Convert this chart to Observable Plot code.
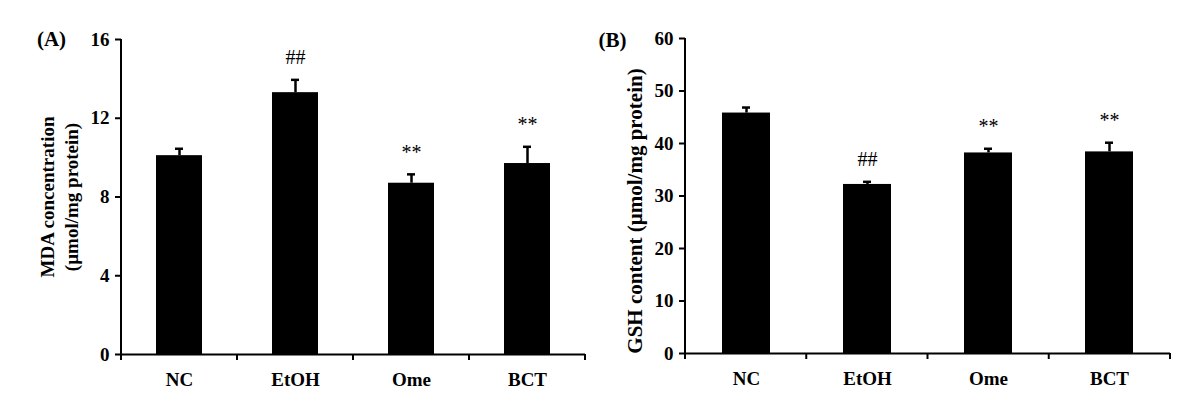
<!DOCTYPE html>
<html><head><meta charset="utf-8">
<script src="https://cdn.jsdelivr.net/npm/d3@7"></script>
<script src="https://cdn.jsdelivr.net/npm/@observablehq/plot@0.6"></script>
<style>
html,body{margin:0;padding:0;background:#fff;}
#wrap{display:flex;width:1200px;height:416px;}
</style></head><body><div id="wrap"></div>
<script>
const categories = ["NC", "EtOH", "Ome", "BCT"];
const mdaMean = [10.1, 13.3, 8.7, 9.7];
const mdaErr = [0.35, 0.65, 0.45, 0.85];
const mdaSig = ["", "##", "**", "**"];
const mdaTicks = [0, 4, 8, 12, 16];
const gshMean = [45.8, 32.2, 38.2, 38.4];
const gshErr = [1.05, 0.5, 0.8, 1.75];
const gshSig = ["", "##", "**", "**"];
const gshTicks = [0, 10, 20, 30, 40, 50, 60];

const FONT = "'Liberation Serif', 'Times New Roman', serif";

function axisLines(n) {
  return (index, scales, values, dim) => {
    const {width, height, marginLeft, marginRight, marginTop, marginBottom} = dim;
    const g = d3.create("svg:g").attr("stroke", "#000").attr("stroke-width", 2).attr("fill", "none");
    const left = marginLeft, right = width - marginRight, bottom = height - marginBottom;
    g.append("line").attr("x1", left).attr("x2", left).attr("y1", marginTop).attr("y2", bottom + 1);
    const step = (right - left) / n;
    for (let i = 0; i <= n; i++) {
      const x = left + i * step;
      g.append("line").attr("x1", x).attr("x2", x).attr("y1", bottom).attr("y2", bottom + 6);
    }
    return g.node();
  };
}

function panel(cfg) {
  const data = categories.map((c, i) => ({cat: c, mean: cfg.mean[i], err: cfg.err[i], sig: cfg.sig[i]}));
  return Plot.plot({
    width: 600,
    height: 416,
    marginLeft: cfg.ml, marginRight: cfg.mr, marginTop: cfg.mt, marginBottom: cfg.mb,
    style: {fontFamily: FONT, fontSize: "18px", fontWeight: "bold", color: "#000", background: "#fff", overflow: "visible"},
    x: {domain: categories, paddingInner: 0.6, paddingOuter: 0.3, axis: null},
    y: {domain: cfg.domain, axis: null},
    marks: [
      Plot.barY(data, {x: "cat", y: "mean", fill: "#000"}),
      Plot.ruleX(data, {x: "cat", y1: "mean", y2: d => d.mean + d.err, stroke: "#000", strokeWidth: 2.5}),
      Plot.tickY(data, {x: "cat", y: d => d.mean + d.err, stroke: "#000", strokeWidth: 2.5, insetLeft: cfg.cap, insetRight: cfg.cap}),
      Plot.text(data.filter(d => d.sig), {x: "cat", y: d => d.mean + d.err, text: "sig", dy: -22, fontSize: 20, fontWeight: "normal", fontFamily: FONT}),
      Plot.ruleY([0], {stroke: "#000", strokeWidth: 2}),
      axisLines(categories.length),
      Plot.axisY({ticks: cfg.ticks, tickSize: 6, tickPadding: 6, strokeWidth: 2, fontSize: cfg.tickFont, fontWeight: "bold", fontFamily: FONT, label: null, tickFormat: d => String(d)}),
      Plot.axisX({tickSize: 0, tickPadding: 18, fontSize: 19, fontWeight: "bold", fontFamily: FONT, label: null}),
      Plot.text([cfg.title], {text: d => d, frameAnchor: "left", textAnchor: "middle", lineAnchor: "middle", rotate: -90, dx: cfg.titleDx, dy: cfg.titleDy, lineHeight: 1.26, fontSize: cfg.titleFont, fontWeight: "bold", fontFamily: FONT}),
      Plot.text([cfg.tag], {text: d => d, frameAnchor: "top-left", textAnchor: "middle", lineAnchor: "middle", dx: cfg.tagDx, dy: cfg.tagDy, fontSize: 21, fontWeight: "bold", fontFamily: FONT})
    ]
  });
}

const wrap = document.getElementById("wrap");
wrap.appendChild(panel({
  mean: mdaMean, err: mdaErr, sig: mdaSig, ticks: mdaTicks, domain: [0, 16],
  ml: 121, mr: 15, mt: 39, mb: 62, cap: 19, tickFont: 19,
  title: "MDA concentration\n(µmol/mg protein)", titleDx: -63, titleDy: 0, titleFont: 19,
  tag: "(A)", tagDx: -70, tagDy: 0
}));
wrap.appendChild(panel({
  mean: gshMean, err: gshErr, sig: gshSig, ticks: gshTicks, domain: [0, 60],
  ml: 85, mr: 30, mt: 38, mb: 63, cap: 20, tickFont: 19,
  title: "GSH content (µmol/mg protein)", titleDx: -52, titleDy: 15, titleFont: 21,
  tag: "(B)", tagDx: -73, tagDy: 2
}));
</script></body></html>
